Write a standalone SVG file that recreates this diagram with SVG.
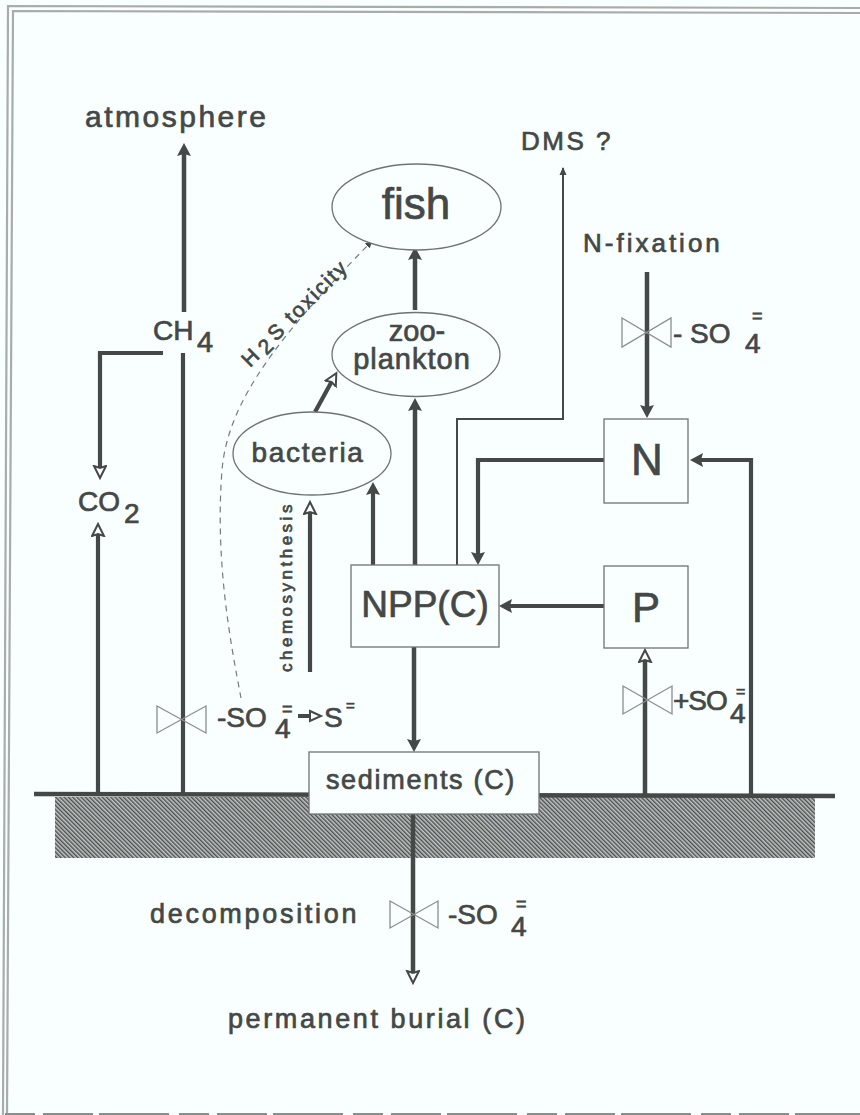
<svg xmlns="http://www.w3.org/2000/svg" width="860" height="1115" viewBox="0 0 860 1115">
<style>
.t{font-family:"Liberation Sans",Arial,sans-serif;fill:#444846;stroke:#444846;stroke-width:.7}
.l{fill:none;stroke:#444846;stroke-width:4.5}
.m{fill:none;stroke:#444846;stroke-width:4.2}
.n{fill:#f9fffe;stroke:#6f7371;stroke-width:1.3}
.v{fill:none;stroke:#8a8e8c;stroke-width:1.3}
</style>
<defs>
<pattern id="h" width="3" height="3" patternUnits="userSpaceOnUse" patternTransform="rotate(-45)"><rect width="3" height="3" fill="#c0c4c2"/><rect width="1.4" height="3" fill="#4a4e4f"/></pattern>
<marker id="a" markerUnits="userSpaceOnUse" markerWidth="16" markerHeight="16" refX="4" refY="7" orient="auto"><path d="M0 0L13 7L0 14L2 7Z" fill="#444846"/></marker>
<marker id="o" markerUnits="userSpaceOnUse" markerWidth="16" markerHeight="16" refX="4" refY="7" orient="auto"><path d="M1 1L13 7L1 13L3 7Z" fill="#f9fffe" stroke="#444846" stroke-width="2"/></marker>
<marker id="s" markerUnits="userSpaceOnUse" markerWidth="9" markerHeight="8" refX="7" refY="4" orient="auto"><path d="M0 0.5L8 4L0 7.500Z" fill="#444846"/></marker>
</defs>
<rect width="860" height="1115" fill="#f9fffe"/>
<path d="M3 1115L8 6L860 8M7 1115L13 11L860 13" fill="none" stroke="#a8acaa" stroke-width="2.200"/>
<path d="M5 1114H860" fill="none" stroke="#8a8e8c" stroke-width="2" stroke-dasharray="30 8 50 6 70 10"/>
<g id="ground"><rect x="55" y="797" width="760" height="61" fill="url(#h)"/><path d="M34 794L835 796" class="l"/></g>
<g id="connectors">
<path class="l" d="M184 312V152" marker-end="url(#a)"/>
<path class="m" d="M183 353V793"/>
<path class="m" d="M163 353H100V469" marker-end="url(#o)"/>
<path class="m" d="M98 793V533" marker-end="url(#o)"/>
<path class="l" d="M415 310V256" marker-end="url(#a)"/>
<path class="m" d="M315 412L332 381" marker-end="url(#o)"/>
<path class="l" d="M415 565V407" marker-end="url(#a)"/>
<path class="m" d="M373 565V491" marker-end="url(#a)"/>
<path class="m" d="M310 672V511" marker-end="url(#o)"/>
<path fill="none" stroke="#444846" stroke-width="2" d="M457 565V419H563V168" marker-end="url(#s)"/>
<path class="l" d="M647 272V409" marker-end="url(#a)"/>
<path class="m" d="M604 460H478V556" marker-end="url(#a)"/>
<path class="m" d="M751 795V460H699" marker-end="url(#a)"/>
<path class="m" d="M604 606H508" marker-end="url(#a)"/>
<path class="l" d="M645 795V659" marker-end="url(#o)"/>
<path class="l" d="M414 647V743" marker-end="url(#a)"/>
<path class="l" d="M413 814V974" marker-end="url(#o)"/>
<path fill="none" stroke="#777b79" stroke-width="1.2" stroke-dasharray="6 5" d="M241 698C230 640 215 560 222 470C228 400 280 335 372 241" marker-end="url(#s)"/>
</g>
<g id="valves">
<path class="v" d="M622 318L671 347V318L622 347Z"/>
<path class="v" d="M157 706L206 733V706L157 733Z"/>
<path class="v" d="M623 686L672 714V686L623 714Z"/>
<path class="v" d="M390 901L438 928V901L390 928Z"/>
</g>
<g id="fish"><ellipse class="n" cx="416.500" cy="207" rx="84.500" ry="43"/><text class="t" x="416" y="219" font-size="44" text-anchor="middle">fish</text></g>
<g id="zooplankton"><ellipse class="n" cx="416" cy="354.500" rx="84" ry="42"/><text class="t" x="417" y="341" font-size="29" text-anchor="middle">zoo-</text><text class="t" x="412" y="369" font-size="29" letter-spacing="1" text-anchor="middle">plankton</text></g>
<g id="bacteria"><ellipse class="n" cx="312" cy="453.500" rx="79" ry="41.500"/><text class="t" x="308" y="462" font-size="28" letter-spacing="1.700" text-anchor="middle">bacteria</text></g>
<g id="npp"><rect class="n" x="351" y="565" width="148" height="82"/><text class="t" x="425" y="617" font-size="37" text-anchor="middle">NPP(C)</text></g>
<g id="n"><rect class="n" x="604" y="419" width="84" height="84"/><text class="t" x="647" y="475" font-size="44" text-anchor="middle">N</text></g>
<g id="p"><rect class="n" x="604" y="566" width="84" height="82"/><text class="t" x="646" y="622" font-size="42" text-anchor="middle">P</text></g>
<g id="sediments"><rect class="n" x="309" y="752" width="230" height="62"/><text class="t" x="421" y="789" font-size="27" letter-spacing="1.700" text-anchor="middle">sediments (C)</text></g>
<g id="labels">
<text class="t" x="85" y="127" font-size="30" letter-spacing="2.500">atmosphere</text>
<text class="t" x="153" y="340" font-size="28">CH</text><text class="t" x="197" y="352" font-size="29">4</text>
<text class="t" x="78" y="511" font-size="28">CO</text><text class="t" x="124" y="523" font-size="28">2</text>
<text class="t" x="521" y="150" font-size="26" letter-spacing="2.500">DMS ?</text>
<text class="t" x="583" y="252" font-size="26" letter-spacing="3">N-fixation</text>
<text class="t" x="673" y="343" font-size="28">- SO</text><text class="t" x="745" y="353" font-size="28">4</text><text class="t" x="752" y="322" font-size="18">=</text>
<text class="t" x="217" y="727" font-size="28">-SO</text><text class="t" x="275" y="738" font-size="28">4</text><text class="t" x="282" y="715" font-size="18">=</text>
<path d="M298 716H312" stroke="#444846" stroke-width="4"/><path d="M310 711L321 716L310 721Z" fill="#f9fffe" stroke="#444846" stroke-width="2"/>
<text class="t" x="324" y="727" font-size="28">S</text><text class="t" x="346" y="711" font-size="15">=</text>
<text class="t" x="673" y="710" font-size="28" letter-spacing="-1">+SO</text><text class="t" x="730" y="723" font-size="28">4</text><text class="t" x="736" y="697" font-size="16">=</text>
<text class="t" x="150" y="923" font-size="27" letter-spacing="2.700">decomposition</text>
<text class="t" x="448" y="924" font-size="28">-SO</text><text class="t" x="511" y="936" font-size="28">4</text><text class="t" x="516" y="910" font-size="18">=</text>
<text class="t" x="228" y="1028" font-size="27" letter-spacing="2.600">permanent burial (C)</text>
<text class="t" transform="translate(292 672) rotate(-90)" font-size="17" letter-spacing="3.500">chemosynthesis</text>
<text class="t" transform="translate(250 368) rotate(-45)" font-size="21" letter-spacing="2">H<tspan dx="3" dy="3">2</tspan><tspan dx="3" dy="-3">S  toxicity</tspan></text>
</g>
</svg>
